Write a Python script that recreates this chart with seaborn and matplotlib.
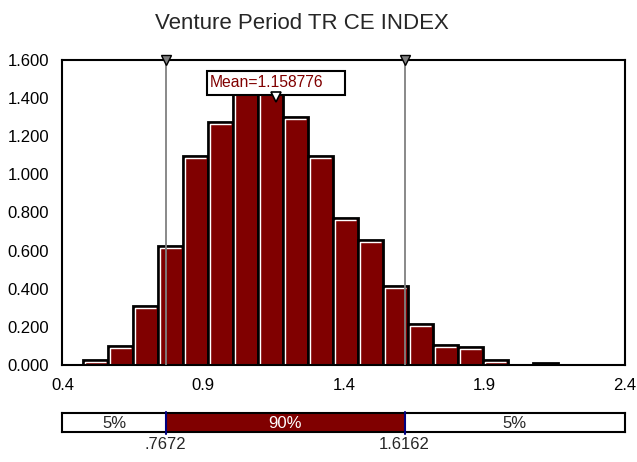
import numpy as np
import pandas as pd
import matplotlib
matplotlib.use("Agg")
import matplotlib.pyplot as plt
from matplotlib.patches import Rectangle
from matplotlib.ticker import FuncFormatter
from matplotlib.transforms import offset_copy
import seaborn as sns

# ---- data ----
title = "Venture Period TR CE INDEX"
bin_first_edge = 0.474
bin_last_edge = 2.162
heights = [0.026, 0.101, 0.310, 0.623, 1.095, 1.275, 1.460, 1.544, 1.303,
           1.095, 0.771, 0.658, 0.415, 0.216, 0.103, 0.093, 0.026, 0.0, 0.012]
mean_value = 1.158776
p5 = 0.7672
p95 = 1.6162
p5_label = ".7672"
p95_label = "1.6162"
band_labels = ["5%", "90%", "5%"]
x_ticks = [0.4, 0.9, 1.4, 1.9, 2.4]
x_tick_labels = ["0.4", "0.9", "1.4", "1.9", "2.4"]
y_ticks = [0.0, 0.2, 0.4, 0.6, 0.8, 1.0, 1.2, 1.4, 1.6]

bin_w = (bin_last_edge - bin_first_edge) / len(heights)
centers = bin_first_edge + bin_w * (np.arange(len(heights)) + 0.5)
df = pd.DataFrame({"x": centers, "w": heights})

sns.set_style("white")
plt.rcParams["font.family"] = ["Liberation Sans", "DejaVu Sans"]

DARK = "#800000"
W_IN, H_IN, DPI = 6.37, 4.62, 100
fig = plt.figure(figsize=(W_IN, H_IN), dpi=DPI)
AX_W = 0.8831
ax = fig.add_axes([0.0981, 0.2100, AX_W, 0.6601])

sns.histplot(data=df, x="x", weights="w", binwidth=bin_w,
             binrange=(bin_first_edge, bin_last_edge), ax=ax, color=DARK,
             alpha=1, edgecolor="black", linewidth=2.0, shrink=1.0)

ax.set_xlim(0.4, 2.4)
ax.set_ylim(0, 1.6)

# white bevel highlight along the inner top/left of each bar
px_per_x = AX_W * W_IN * DPI / (2.4 - 0.4)
hl_tr = offset_copy(ax.transData, fig=fig, x=2.0, y=-2.0, units="dots")
for p in list(ax.patches):
    h = p.get_height()
    if h <= 0:
        continue
    x0, w = p.get_x(), p.get_width()
    ax.plot([x0, x0, x0 + w - 4.0 / px_per_x], [0, h, h], color="white",
            lw=1.0, transform=hl_tr, solid_capstyle="butt", zorder=3)

ax.set_xticks(x_ticks)
ax.set_xticklabels(x_tick_labels)
ax.set_yticks(y_ticks)
ax.yaxis.set_major_formatter(FuncFormatter(lambda v, p: f"{v:.3f}"))
ax.set_xlabel("")
ax.set_ylabel("")
ax.tick_params(axis="both", labelsize=12, colors="black", direction="out")
ax.tick_params(axis="y", length=9, width=1.3, pad=0.8)
ax.tick_params(axis="x", length=6, width=1.3)
for s in ax.spines.values():
    s.set_visible(True)
    s.set_color("black")
    s.set_linewidth(1.5)
    s.set_zorder(4)

# percentile lines
for v in (p5, p95):
    ax.axvline(v, color="#808080", lw=1.3, zorder=5)
    ax.plot([v], [1.6], marker="v", ms=7, mfc="#808080", mec="black", mew=1,
            clip_on=False, zorder=6)

# mean label box
box_w = 0.49
ax.add_patch(Rectangle((mean_value - box_w / 2, 1.418), box_w, 0.126,
                       facecolor="white", edgecolor="black", lw=1.5, zorder=7))
ax.text(mean_value - box_w / 2 + 0.010, 1.481, f"Mean={mean_value:.6f}",
        color=DARK, fontsize=11.3, ha="left", va="center", zorder=8)
ax.plot([mean_value], [1.405], marker="v", ms=7, mfc="white", mec="black",
        mew=1.2, zorder=9, clip_on=False)

fig.suptitle(title, x=0.474, y=0.972, fontsize=16)

# percentile band
bx = fig.add_axes([0.0981, 0.0649, AX_W, 0.0411])
bx.set_xlim(0.4, 2.4)
bx.set_ylim(0, 1)
bx.axvspan(p5, p95, color=DARK, lw=0)
for v in (p5, p95):
    bx.plot([v, v], [-0.08, 1.08], color="#000080", lw=1.5, clip_on=False, zorder=5)
bx.text((0.4 + p5) / 2, 0.45, band_labels[0], ha="center", va="center", fontsize=12)
bx.text((p5 + p95) / 2, 0.45, band_labels[1], ha="center", va="center", fontsize=12, color="white")
bx.text((p95 + 2.4) / 2, 0.45, band_labels[2], ha="center", va="center", fontsize=12)
bx.text(p5, -0.25, p5_label, ha="center", va="top", fontsize=12)
bx.text(p95, -0.25, p95_label, ha="center", va="top", fontsize=12)
bx.set_xticks([])
bx.set_yticks([])
for s in bx.spines.values():
    s.set_visible(True)
    s.set_color("black")
    s.set_linewidth(1.5)

fig.savefig("out.png", dpi=DPI)
